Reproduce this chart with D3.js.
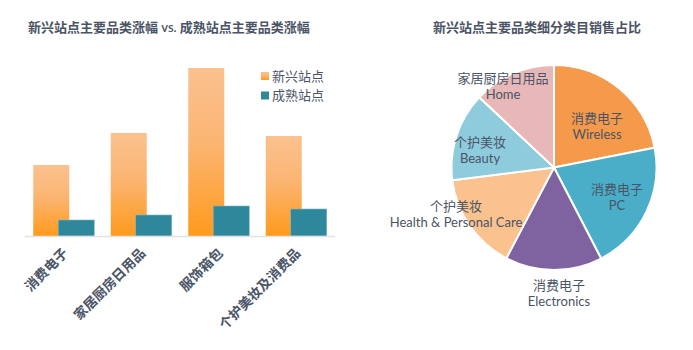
<!DOCTYPE html>
<html><head><meta charset="utf-8">
<script src="https://cdn.jsdelivr.net/npm/d3@7/dist/d3.min.js"></script>
<style>
body{margin:0;background:#fff;}
svg{display:block;font-family:Lato,"Noto Sans CJK SC",sans-serif;}
</style></head>
<body><svg id="c" width="693" height="350"></svg>
<script>
// Bar chart data
const categories = ["消费电子","家居厨房日用品","服饰箱包","个护美妆及消费品"];
const emergingGrowth = [71,103,168,100];
const matureGrowth = [16,21,30,27];
const seriesNames = ["新兴站点","成熟站点"];
// Pie data
const pieCn = ["消费电子","消费电子","消费电子","个护美妆","个护美妆","家居厨房日用品"];
const pieEn = ["Wireless","PC","Electronics","Health & Personal Care","Beauty","Home"];
const pieShare = [21.9,20.5,15.3,15.3,14.0,13.0];
const pieColors = ["#f59a4a","#4aaec8","#7f63a0","#f9c28f","#8ecbdc","#e8b8b8"];

const svg = d3.select("#c");
const textColor = "#4a5466";

// defs gradient
const defs = svg.append("defs");
const g1 = defs.append("linearGradient").attr("id","og").attr("x1",0).attr("y1",0).attr("x2",0).attr("y2",1);
g1.append("stop").attr("offset","0%").attr("stop-color","#fbc18f");
g1.append("stop").attr("offset","45%").attr("stop-color","#fbb572");
g1.append("stop").attr("offset","100%").attr("stop-color","#ff9a1c");

// Left title
svg.append("text").attr("x",28).attr("y",32).attr("fill",textColor)
  .attr("font-size",13).attr("font-weight",600).text("新兴站点主要品类涨幅 vs. 成熟站点主要品类涨幅");

const x = d3.scaleBand().domain(categories).range([25,335]).paddingInner(0).paddingOuter(0);
const y = d3.scaleLinear().domain([0,168]).range([236,68]);
const bw = 36, off = 25;

const bars = svg.append("g");
bars.selectAll("rect.e").data(categories).join("rect").attr("class","e")
  .attr("x",d=>x(d)+x.bandwidth()/2-30.5).attr("width",bw)
  .attr("y",(d,i)=>y(emergingGrowth[i])).attr("height",(d,i)=>y(0)-y(emergingGrowth[i]))
  .attr("fill","url(#og)");
bars.selectAll("rect.m").data(categories).join("rect").attr("class","m")
  .attr("x",d=>x(d)+x.bandwidth()/2-30.5+off).attr("width",bw)
  .attr("y",(d,i)=>y(matureGrowth[i])).attr("height",(d,i)=>y(0)-y(matureGrowth[i]))
  .attr("fill","#2f879c").attr("stroke","#7fb7c4").attr("stroke-width",0.6);

svg.append("line").attr("x1",25).attr("x2",335).attr("y1",y(0)+0.5).attr("y2",y(0)+0.5)
  .attr("stroke","#e2e2e2").attr("stroke-width",1.5);

svg.append("g").selectAll("text").data(categories).join("text")
  .attr("transform",d=>`translate(${x(d)+x.bandwidth()/2+5},${y(0)+18}) rotate(-45)`)
  .attr("text-anchor","end").attr("fill",textColor).attr("font-size",13.5).attr("font-weight","bold")
  .text(d=>d);

// legend
const lg = svg.append("g");
seriesNames.forEach((n,i)=>{
  lg.append("rect").attr("x",261).attr("y",72+i*19.5).attr("width",8).attr("height",8)
    .attr("fill",i===0?"url(#og)":"#2f879c");
  lg.append("text").attr("x",272).attr("y",80.5+i*19.5).attr("fill",textColor).attr("font-size",13)
    .text(n);
});

// Pie
svg.append("text").attr("x",537).attr("y",32).attr("text-anchor","middle").attr("fill",textColor)
  .attr("font-size",13).attr("font-weight",600).text("新兴站点主要品类细分类目销售占比");

const cx=554, cy=167.5, R=102.5;
const pie = d3.pie().sort(null).value(d=>d)(pieShare);
const arc = d3.arc().innerRadius(0).outerRadius(R);
const pg = svg.append("g").attr("transform",`translate(${cx},${cy})`);
pg.selectAll("path").data(pie).join("path").attr("d",arc)
  .attr("fill",(d,i)=>pieColors[i]).attr("stroke","#fff").attr("stroke-width",2);

const labelPos = [[597,118],[617,189],[559,285],[456,206],[480,142],[503,78]];
const lab = svg.append("g");
pie.forEach((d,i)=>{
  const t = lab.append("text").attr("text-anchor","middle").attr("fill",textColor).attr("font-size",13);
  t.append("tspan").attr("x",labelPos[i][0]).attr("y",labelPos[i][1]+5).text(pieCn[i]);
  t.append("tspan").attr("x",labelPos[i][0]).attr("y",labelPos[i][1]+21).text(pieEn[i]);
});
</script></body></html>
